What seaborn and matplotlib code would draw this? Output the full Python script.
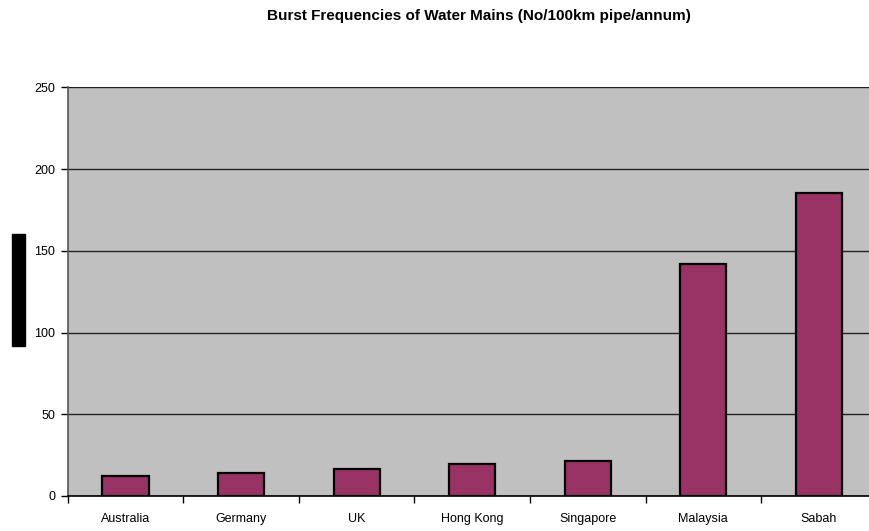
import numpy as np
import pandas as pd
import matplotlib
matplotlib.use("Agg")
import matplotlib.pyplot as plt
import seaborn as sns
from matplotlib.patches import Rectangle

countries = ["Australia", "Germany", "UK", "Hong Kong", "Singapore", "Malaysia", "Sabah"]
bursts = [12.0, 13.9, 16.7, 19.7, 21.2, 141.8, 185.6]
y_ticks = [0, 50, 100, 150, 200, 250]


def main():
    sns.set_style("white")
    plt.rcParams["font.family"] = ["Liberation Sans", "DejaVu Sans"]

    df = pd.DataFrame({"country": countries, "bursts": bursts})

    fig = plt.figure(figsize=(8.69, 5.31), dpi=100)
    W, H = 869, 531
    ax = fig.add_axes([67.7 / W, 1 - 496 / H, (876.7 - 67.7) / W, (496 - 87.3) / H])
    ax.set_facecolor("#C0C0C0")

    sns.barplot(data=df, x="country", y="bursts", color="#993366", saturation=1,
                edgecolor="black", linewidth=1.6, width=0.4, ax=ax, zorder=3)

    ax.set_ylim(0, 250)
    ax.set_xlim(-0.5, len(countries) - 0.5)
    ax.set_yticks(y_ticks)
    ax.yaxis.grid(True, color="#222222", linewidth=1.0, zorder=0)
    ax.set_axisbelow(True)

    # ticks between categories, like the old spreadsheet charts
    ax.set_xticks(np.arange(-0.5, len(countries), 1.0), minor=True)
    ax.tick_params(axis="x", which="major", bottom=False, length=0, pad=12,
                   labelsize=9, labelcolor="black")
    ax.tick_params(axis="x", which="minor", bottom=True, length=5, width=1,
                   color="black", direction="out")
    ax.tick_params(axis="y", left=True, length=5, width=1, color="black",
                   direction="out", pad=4, labelsize=9, labelcolor="black")
    ax.set_xlabel("")
    ax.set_ylabel("")

    for side in ["top", "right"]:
        ax.spines[side].set_visible(False)
    ax.spines["left"].set_color("#555555")
    ax.spines["left"].set_linewidth(1.2)
    ax.spines["bottom"].set_color("black")
    ax.spines["bottom"].set_linewidth(1.2)

    fig.text(479 / W, 1 - 16 / H, "Burst Frequencies of Water Mains (No/100km pipe/annum)",
             ha="center", va="center", fontsize=11, fontweight="bold", color="black")

    # black block where the y-axis title should be
    fig.patches.append(Rectangle((12 / W, 1 - 346 / H), 13 / W, 112 / H,
                                 transform=fig.transFigure, color="black"))

    fig.savefig("out.png", dpi=100)
    plt.close(fig)


if __name__ == "__main__":
    main()
